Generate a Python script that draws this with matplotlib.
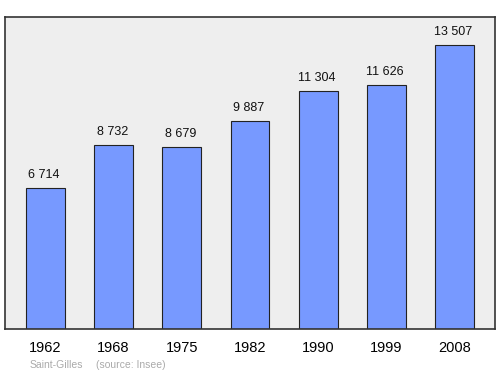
import matplotlib
matplotlib.use("Agg")
import matplotlib.pyplot as plt

plt.rcParams["font.family"] = ["Liberation Sans", "DejaVu Sans"]

years = ["1962", "1968", "1975", "1982", "1990", "1999", "2008"]
population = [6714, 8732, 8679, 9887, 11304, 11626, 13507]
value_labels = ["6 714", "8 732", "8 679", "9 887", "11 304", "11 626", "13 507"]

fig = plt.figure(figsize=(5, 3.74), dpi=100)
ax = fig.add_axes([0.01, 0.1203, 0.98, 0.8342])
ax.set_facecolor("#eeeeee")

x = list(range(len(years)))
ax.bar(x, population, width=0.57, color="#7799ff", edgecolor="#222222", linewidth=0.8, zorder=2)

for xi, v, lab in zip(x, population, value_labels):
    ax.annotate(lab, (xi, v), xytext=(-1, 5), textcoords="offset points",
                ha="center", va="bottom", fontsize=9, color="#111111")

ax.set_xlim(-0.593, 6.593)
ax.set_ylim(0, 14840)
ax.set_yticks([])
ax.set_xticks(x)
ax.set_xticklabels(years, fontsize=10.5)
ax.tick_params(axis="x", length=0, pad=8.5)
for s in ax.spines.values():
    s.set_color("#333333")
    s.set_linewidth(1.2)

fig.text(0.06, 0.012, "Saint-Gilles", fontsize=7.5, color="#aaaaaa", ha="left", va="bottom")
fig.text(0.192, 0.012, "(source: Insee)", fontsize=7.5, color="#aaaaaa", ha="left", va="bottom")

fig.savefig("out.png", dpi=100)
